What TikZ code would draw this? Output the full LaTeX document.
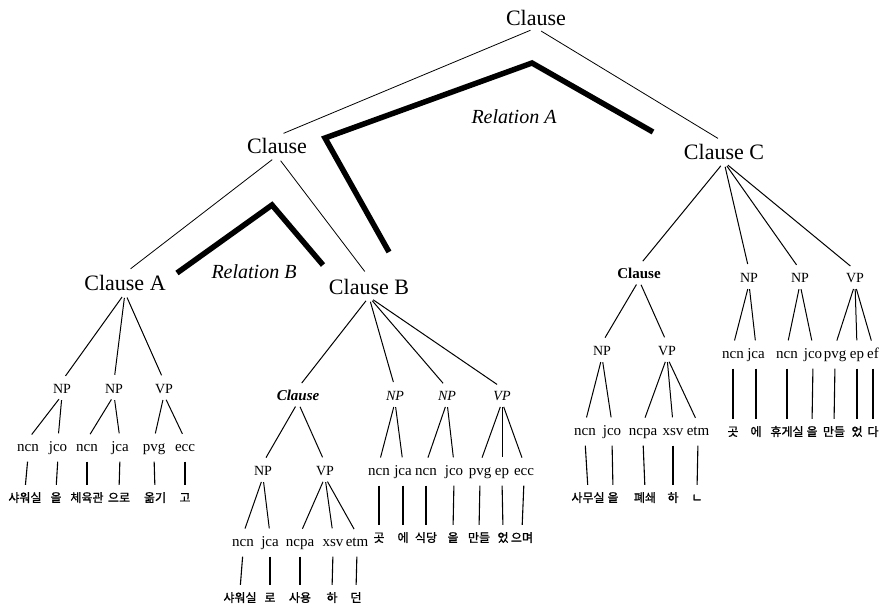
\documentclass[tikz,border=0pt]{standalone}
\usepackage{fontspec}
\setmainfont{Liberation Serif}
\newfontfamily\kr[FakeBold=1.2]{Noto Sans CJK KR}
\begin{document}
\begin{tikzpicture}[x=1pt,y=-1pt,
  every node/.style={inner sep=2pt},
  big/.style={font=\fontsize{22}{24}\selectfont},
  reltxt/.style={font=\itshape\fontsize{20}{22}\selectfont},
  sclause/.style={font=\bfseries\fontsize{15}{17}\selectfont, text height=10pt, text depth=0pt},
  iclause/.style={font=\bfseries\itshape\fontsize{15}{17}\selectfont, text height=10pt, text depth=0pt},
  cat/.style={font=\fontsize{14}{16}\selectfont, text height=10pt, text depth=0pt},
  icat/.style={font=\itshape\fontsize{14}{16}\selectfont, text height=10pt, text depth=0pt},
  tag/.style={font=\fontsize{15}{17}\selectfont, text height=10pt, text depth=3pt},
  ko/.style={font=\kr\fontsize{12}{14}\selectfont, text height=10pt, text depth=2pt},
  topedge/.style={line width=0.8pt, shorten <=6pt, shorten >=7pt},
  br/.style={line width=1pt, shorten <=5pt, shorten >=6pt},
  vl/.style={line width=1.1pt, shorten <=5pt, shorten >=5pt},
  relline/.style={line width=5.5pt, line join=miter}
]
\useasboundingbox (0,0) rectangle (882,606);

% ---- upper levels
\node[big] (top) at (536,18) {Clause};
\node[big] (c2) at (277,146) {Clause};
\node[big] (cC) at (724,152) {Clause C};
\node[big] (cA) at (125,283) {Clause A};
\node[big] (cB) at (369,287) {Clause B};
\node[reltxt] (relA) at (514,117) {Relation A};
\node[reltxt] (relB) at (254,272) {Relation B};

\draw[topedge] (top.south) -- (c2.north);
\draw[topedge] (top.south) -- (cC.north);
\draw[topedge] (c2.south) -- (cA.north);
\draw[topedge] (c2.south) -- (cB.north);

\coordinate (ra1) at (389,252);
\coordinate (ra2) at (325,138);
\coordinate (ra3) at (532,63);
\coordinate (ra4) at (653,132);
\draw[relline] (ra1) -- (ra2) -- (ra3) -- (ra4);
\coordinate (rb1) at (177,273);
\coordinate (rb2) at (272,205);
\coordinate (rb3) at (323,265);
\draw[relline] (rb1) -- (rb2) -- (rb3);

% ---- Clause A
\node[cat] (a1) at (62,388) {NP};
\node[cat] (a2) at (114,388) {NP};
\node[cat] (a3) at (164,388) {VP};
\foreach \n in {a1,a2,a3} \draw[br] (cA.south) -- (\n.north);
\node[tag] (a1n) at (28,448) {ncn};
\node[tag] (a1j) at (58,448) {jco};
\node[tag] (a2n) at (87,448) {ncn};
\node[tag] (a2j) at (120,448) {jca};
\node[tag] (a3p) at (154,448) {pvg};
\node[tag] (a3e) at (185,448) {ecc};
\draw[br] (a1.south) -- (a1n.north); \draw[br] (a1.south) -- (a1j.north);
\draw[br] (a2.south) -- (a2n.north); \draw[br] (a2.south) -- (a2j.north);
\draw[br] (a3.south) -- (a3p.north); \draw[br] (a3.south) -- (a3e.north);
\node[ko] (ka1) at (25,498) {샤워실};
\node[ko] (ka2) at (56,498) {을};
\node[ko] (ka3) at (87,498) {체육관};
\node[ko] (ka4) at (119,498) {으로};
\node[ko] (ka5) at (155,498) {옮기};
\node[ko] (ka6) at (185,498) {고};
\draw[vl] (a1n.south) -- (ka1.north); \draw[vl] (a1j.south) -- (ka2.north);
\draw[vl] (a2n.south) -- (ka3.north); \draw[vl] (a2j.south) -- (ka4.north);
\draw[vl] (a3p.south) -- (ka5.north); \draw[vl] (a3e.south) -- (ka6.north);

% ---- Clause B
\node[iclause] (b0) at (298,395) {Clause};
\node[icat] (b1) at (395,395) {NP};
\node[icat] (b2) at (447,395) {NP};
\node[icat] (b3) at (502,395) {VP};
\foreach \n in {b0,b1,b2,b3} \draw[br] (cB.south) -- (\n.north);
\node[cat] (b0n) at (263,470) {NP};
\node[cat] (b0v) at (325,470) {VP};
\draw[br] (b0.south) -- (b0n.north); \draw[br] (b0.south) -- (b0v.north);
\node[tag] (b0a) at (243,543) {ncn};
\node[tag] (b0b) at (270,543) {jca};
\node[tag] (b0c) at (300,543) {ncpa};
\node[tag] (b0d) at (333,543) {xsv};
\node[tag] (b0e) at (357,543) {etm};
\draw[br] (b0n.south) -- (b0a.north); \draw[br] (b0n.south) -- (b0b.north);
\draw[br] (b0v.south) -- (b0c.north); \draw[br] (b0v.south) -- (b0d.north);
\draw[br] (b0v.south) -- (b0e.north);
\node[ko] (kb01) at (240,598) {샤워실};
\node[ko] (kb02) at (270,598) {로};
\node[ko] (kb03) at (300,598) {사용};
\node[ko] (kb04) at (332,598) {하};
\node[ko] (kb05) at (356,598) {던};
\draw[vl] (b0a.south) -- (kb01.north); \draw[vl] (b0b.south) -- (kb02.north);
\draw[vl] (b0c.south) -- (kb03.north); \draw[vl] (b0d.south) -- (kb04.north);
\draw[vl] (b0e.south) -- (kb05.north);

\node[tag] (b1n) at (379,472) {ncn};
\node[tag] (b1j) at (403,472) {jca};
\node[tag] (b2n) at (426,472) {ncn};
\node[tag] (b2j) at (454,472) {jco};
\node[tag] (b3p) at (480,472) {pvg};
\node[tag] (b3e) at (502,472) {ep};
\node[tag] (b3c) at (524,472) {ecc};
\draw[br] (b1.south) -- (b1n.north); \draw[br] (b1.south) -- (b1j.north);
\draw[br] (b2.south) -- (b2n.north); \draw[br] (b2.south) -- (b2j.north);
\draw[br] (b3.south) -- (b3p.north); \draw[br] (b3.south) -- (b3e.north);
\draw[br] (b3.south) -- (b3c.north);
\node[ko] (kb1) at (379,538) {곳};
\node[ko] (kb2) at (403,538) {에};
\node[ko] (kb3) at (426,538) {식당};
\node[ko] (kb4) at (453,538) {을};
\node[ko] (kb5) at (479,538) {만들};
\node[ko] (kb6) at (503,538) {었};
\node[ko] (kb7) at (522,538) {으며};
\draw[vl] (b1n.south) -- (kb1.north); \draw[vl] (b1j.south) -- (kb2.north);
\draw[vl] (b2n.south) -- (kb3.north); \draw[vl] (b2j.south) -- (kb4.north);
\draw[vl] (b3p.south) -- (kb5.north); \draw[vl] (b3e.south) -- (kb6.north);
\draw[vl] (b3c.south) -- (kb7.north);

% ---- Clause C
\node[sclause] (c0) at (639,273) {Clause};
\node[cat] (c1) at (749,277) {NP};
\node[cat] (c2b) at (800,277) {NP};
\node[cat] (c3) at (855,277) {VP};
\foreach \n in {c0,c1,c2b,c3} \draw[br] (cC.south) -- (\n.north);
\node[cat] (c0n) at (602,350) {NP};
\node[cat] (c0v) at (667,350) {VP};
\draw[br] (c0.south) -- (c0n.north); \draw[br] (c0.south) -- (c0v.north);
\node[tag] (c0a) at (585,432) {ncn};
\node[tag] (c0b) at (612,432) {jco};
\node[tag] (c0c) at (643,432) {ncpa};
\node[tag] (c0d) at (673,432) {xsv};
\node[tag] (c0e) at (698,432) {etm};
\draw[br] (c0n.south) -- (c0a.north); \draw[br] (c0n.south) -- (c0b.north);
\draw[br] (c0v.south) -- (c0c.north); \draw[br] (c0v.south) -- (c0d.north);
\draw[br] (c0v.south) -- (c0e.north);
\node[ko] (kc01) at (588,498) {사무실};
\node[ko] (kc02) at (613,498) {을};
\node[ko] (kc03) at (645,498) {폐쇄};
\node[ko] (kc04) at (673,498) {하};
\node[ko] (kc05) at (697,498) {ㄴ};
\draw[vl] (c0a.south) -- (kc01.north); \draw[vl] (c0b.south) -- (kc02.north);
\draw[vl] (c0c.south) -- (kc03.north); \draw[vl] (c0d.south) -- (kc04.north);
\draw[vl] (c0e.south) -- (kc05.north);

\node[tag] (c1n) at (733,355) {ncn};
\node[tag] (c1j) at (756,355) {jca};
\node[tag] (c2n) at (787,355) {ncn};
\node[tag] (c2j) at (813,355) {jco};
\node[tag] (c3p) at (835,355) {pvg};
\node[tag] (c3e) at (857,355) {ep};
\node[tag] (c3f) at (873,355) {ef};
\draw[br] (c1.south) -- (c1n.north); \draw[br] (c1.south) -- (c1j.north);
\draw[br] (c2b.south) -- (c2n.north); \draw[br] (c2b.south) -- (c2j.north);
\draw[br] (c3.south) -- (c3p.north); \draw[br] (c3.south) -- (c3e.north);
\draw[br] (c3.south) -- (c3f.north);
\node[ko] (kc1) at (733,432) {곳};
\node[ko] (kc2) at (756,432) {에};
\node[ko] (kc3) at (787,432) {휴게실};
\node[ko] (kc4) at (812,432) {을};
\node[ko] (kc5) at (834,432) {만들};
\node[ko] (kc6) at (857,432) {었};
\node[ko] (kc7) at (873,432) {다};
\draw[vl] (c1n.south) -- (kc1.north); \draw[vl] (c1j.south) -- (kc2.north);
\draw[vl] (c2n.south) -- (kc3.north); \draw[vl] (c2j.south) -- (kc4.north);
\draw[vl] (c3p.south) -- (kc5.north); \draw[vl] (c3e.south) -- (kc6.north);
\draw[vl] (c3f.south) -- (kc7.north);
\end{tikzpicture}
\end{document}
